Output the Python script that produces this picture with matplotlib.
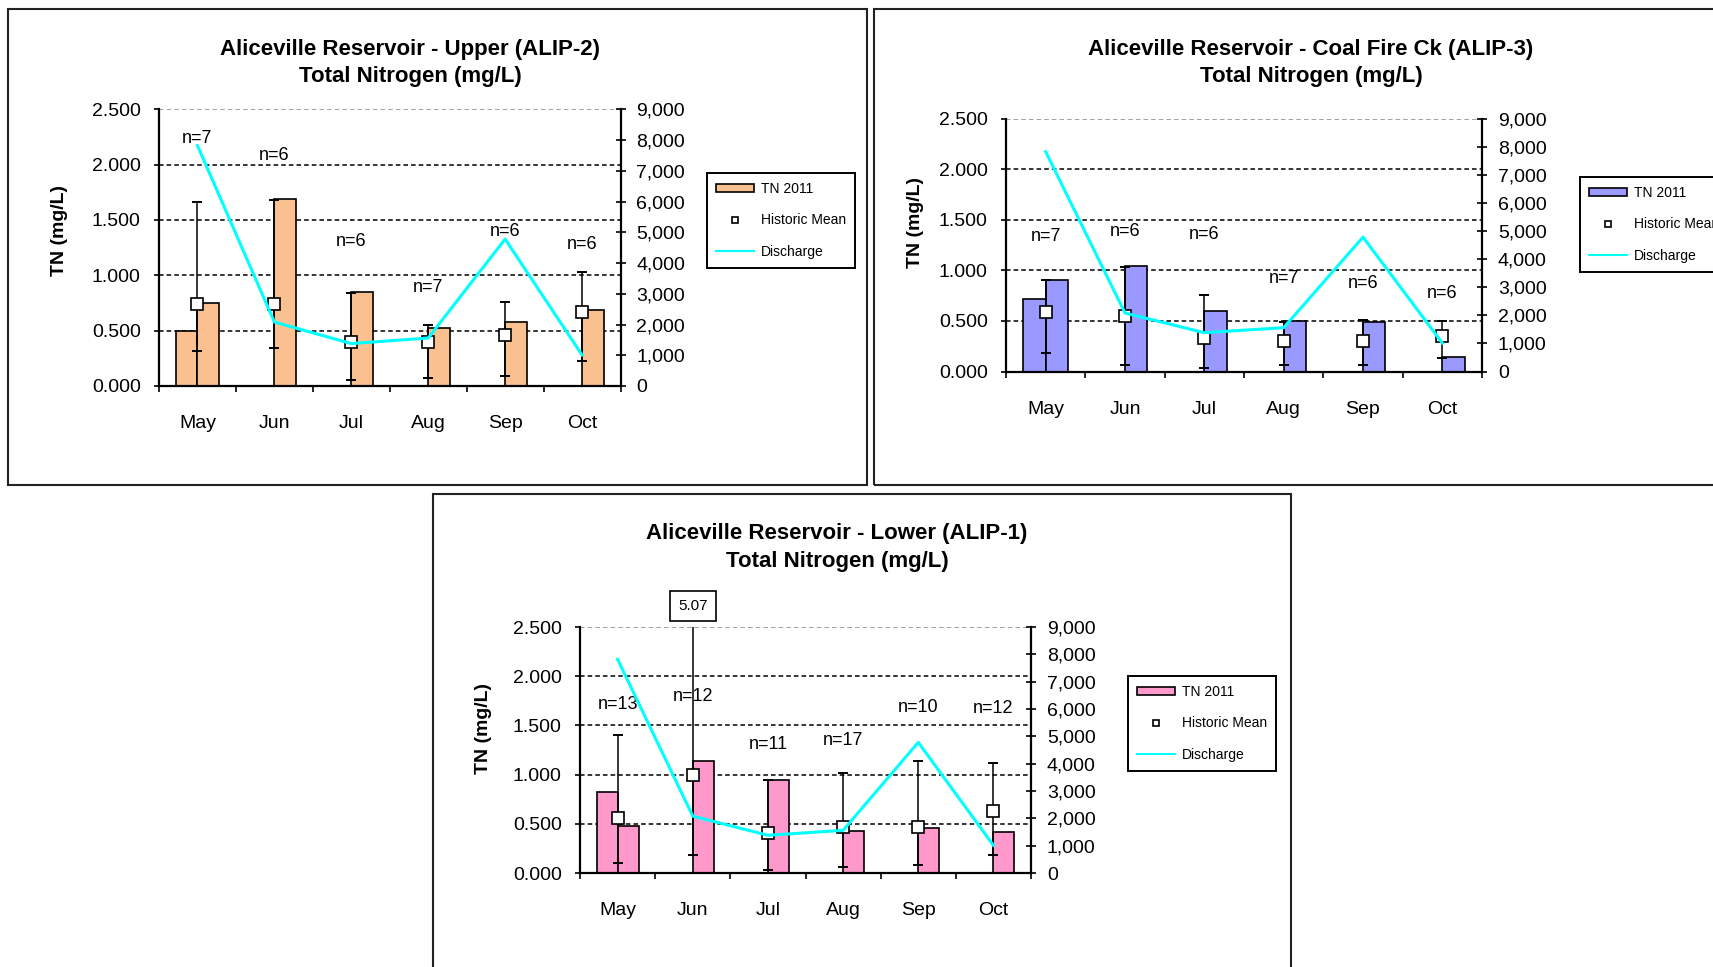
import numpy as np
import matplotlib
matplotlib.use("Agg")
import matplotlib.pyplot as plt
from matplotlib.patches import Patch, Rectangle
from matplotlib.lines import Line2D
from matplotlib.ticker import FuncFormatter

plt.rcParams["font.family"] = ["Liberation Sans", "DejaVu Sans"]

W, H = 1713, 967

# shared data
months = ["May", "Jun", "Jul", "Aug", "Sep", "Oct"]
discharge = [7820, 2080, 1380, 1560, 4780, 1010]

# Upper (ALIP-2)
upper_tn_first = [0.50, np.nan, np.nan, np.nan, np.nan, np.nan]
upper_tn_second = [0.75, 1.69, 0.85, 0.52, 0.58, 0.69]
upper_hist_mean = [0.74, 0.74, 0.40, 0.40, 0.46, 0.67]
upper_hist_min = [0.32, 0.34, 0.05, 0.07, 0.09, 0.23]
upper_hist_max = [1.66, 1.68, 0.84, 0.55, 0.76, 1.03]
upper_n = [7, 6, 6, 7, 6, 6]
upper_n_y = [2.24, 2.08, 1.31, 0.89, 1.40, 1.28]

# Coal Fire Ck (ALIP-3)
coal_tn_first = [0.72, np.nan, np.nan, np.nan, np.nan, np.nan]
coal_tn_second = [0.90, 1.04, 0.60, 0.50, 0.49, 0.14]
coal_hist_mean = [0.59, 0.55, 0.33, 0.30, 0.30, 0.35]
coal_hist_min = [0.18, 0.06, 0.03, 0.06, 0.06, 0.13]
coal_hist_max = [0.90, 1.03, 0.76, 0.49, 0.51, 0.50]
coal_n = [7, 6, 6, 7, 6, 6]
coal_n_y = [1.33, 1.38, 1.35, 0.92, 0.87, 0.77]

# Lower (ALIP-1)
lower_tn_first = [0.82, np.nan, np.nan, np.nan, np.nan, np.nan]
lower_tn_second = [0.48, 1.14, 0.95, 0.43, 0.46, 0.42]
lower_hist_mean = [0.56, 1.00, 0.41, 0.47, 0.47, 0.63]
lower_hist_min = [0.10, 0.18, 0.03, 0.06, 0.08, 0.18]
lower_hist_max = [1.40, 5.07, 0.95, 1.02, 1.14, 1.12]
lower_n = [13, 12, 11, 17, 10, 12]
lower_n_y = [1.71, 1.79, 1.31, 1.35, 1.68, 1.67]

CYAN = "#00FFFF"


def fx(x):
    return x / W


def fy(y):
    return 1 - y / H


def draw_panel(fig, frame, box, title, title_x, title_base, ylabel_xy, legend_xy,
               color, tn_first, tn_second, hist_mean, hist_min, hist_max, n_vals, n_y):
    # panel border
    fl, ft, fr, fb = frame
    fig.add_artist(Rectangle((fx(fl), fy(fb)), (fr - fl) / W, (fb - ft) / H,
                             transform=fig.transFigure, fill=False,
                             edgecolor="#222222", linewidth=1.5))

    left, top, right, bottom = box
    ax = fig.add_axes([fx(left), fy(bottom), (right - left) / W, (bottom - top) / H])
    x = np.arange(len(months))
    w = 0.28

    ax.bar(x - w / 2, tn_first, w, color=color, edgecolor="black", linewidth=1.2, zorder=2)
    ax.bar(x + w / 2, tn_second, w, color=color, edgecolor="black", linewidth=1.2, zorder=2)

    mean = np.array(hist_mean)
    yerr = [mean - np.array(hist_min), np.array(hist_max) - mean]
    ax.errorbar(x, mean, yerr=yerr, fmt="none", ecolor="black", elinewidth=1.1,
                capsize=3.3, capthick=1.4, zorder=3)
    ax.plot(x, mean, "s", mfc="white", mec="black", ms=8, mew=1.2, zorder=4)

    for xi, n, yy in zip(x, n_vals, n_y):
        ax.text(xi, yy, f"n={n}", ha="center", va="center", fontsize=13, zorder=5)

    ax.set_xlim(-0.5, 5.5)
    ax.set_ylim(0, 2.5)
    ax.set_yticks(np.arange(0, 2.51, 0.5))
    ax.yaxis.set_major_formatter(FuncFormatter(lambda v, p: f"{v:.3f}"))

    # values off the top of the chart get a boxed label
    for xi, v in zip(x, hist_max):
        if v > 2.5:
            ax.annotate(f"{v:.2f}", xy=(xi, 2.5), xytext=(0, 21), textcoords="offset pixels",
                        ha="center", va="center", fontsize=11, annotation_clip=False,
                        bbox=dict(boxstyle="square,pad=0.55", fc="white", ec="black", lw=1.2))

    ax.set_axisbelow(True)
    ax.grid(axis="y", color="black", linestyle=(0, (3, 2)), linewidth=1.1)
    ax.yaxis.get_gridlines()[-1].set_color("#888888")

    for s in ["top", "right"]:
        ax.spines[s].set_visible(False)
    for s in ["left", "bottom"]:
        ax.spines[s].set_linewidth(1.6)

    ax.set_xticks(x)
    ax.set_xticklabels(months)
    ax.set_xticks(np.arange(-0.5, 6, 1), minor=True)
    ax.tick_params(axis="x", which="major", length=0, pad=21, labelsize=14)
    ax.tick_params(axis="x", which="minor", length=4.5, width=1.2, direction="out")
    ax.tick_params(axis="y", direction="out", length=3.6, width=1.2, pad=9.5, labelsize=14)

    ax2 = ax.twinx()
    ax2.plot(x, discharge, color=CYAN, linewidth=2.2, zorder=6)
    ax2.set_ylim(0, 9000)
    ax2.set_yticks(np.arange(0, 9001, 1000))
    ax2.yaxis.set_major_formatter(FuncFormatter(lambda v, p: f"{v:,.0f}"))
    ax2.tick_params(axis="y", direction="inout", length=7, width=1.2, pad=8, labelsize=14)
    for s in ["top", "left", "bottom"]:
        ax2.spines[s].set_visible(False)
    ax2.spines["right"].set_linewidth(1.6)

    # titles and labels
    line1, line2 = title
    fig.text(fx(title_x), fy(title_base[0]), line1, ha="center", va="baseline",
             fontsize=16, fontweight="bold")
    fig.text(fx(title_x), fy(title_base[1]), line2, ha="center", va="baseline",
             fontsize=16, fontweight="bold")
    fig.text(fx(ylabel_xy[0]), fy(ylabel_xy[1]), "TN (mg/L)", rotation=90,
             ha="center", va="center", fontsize=14, fontweight="bold")

    handles = [
        Patch(facecolor=color, edgecolor="black", linewidth=1.2),
        Line2D([], [], marker="s", linestyle="none", mfc="white", mec="black", ms=5, mew=1.2),
        Line2D([], [], color=CYAN, linewidth=1.5),
    ]
    leg = fig.legend(handles, ["TN 2011", "Historic Mean", "Discharge"],
                     loc="upper left", bbox_to_anchor=(fx(legend_xy[0]), fy(legend_xy[1])),
                     bbox_transform=fig.transFigure, borderaxespad=0, fontsize=10,
                     frameon=True, fancybox=False, framealpha=1, edgecolor="black",
                     handlelength=2.75, handleheight=0.5, handletextpad=0.5,
                     labelspacing=1.25, borderpad=0.65)
    leg.get_frame().set_linewidth(1.4)
    return ax, ax2


fig = plt.figure(figsize=(W / 100, H / 100), dpi=100)

draw_panel(fig, (7.5, 9, 867, 485), (159, 109.3, 620.5, 386),
           ("Aliceville Reservoir - Upper (ALIP-2)", "Total Nitrogen (mg/L)"),
           410, (55, 82), (60, 231), (707, 173), "#FAC090",
           upper_tn_first, upper_tn_second, upper_hist_mean, upper_hist_min,
           upper_hist_max, upper_n, upper_n_y)

draw_panel(fig, (874, 9, 1725, 485), (1006, 118.5, 1482, 371.5),
           ("Aliceville Reservoir - Coal Fire Ck (ALIP-3)", "Total Nitrogen (mg/L)"),
           1311, (55, 82), (915, 222), (1580, 177), "#9999FF",
           coal_tn_first, coal_tn_second, coal_hist_mean, coal_hist_min,
           coal_hist_max, coal_n, coal_n_y)

draw_panel(fig, (433, 494, 1291, 980), (580, 627, 1031, 873),
           ("Aliceville Reservoir - Lower (ALIP-1)", "Total Nitrogen (mg/L)"),
           837, (539, 567), (484, 729), (1128, 676), "#FF99CC",
           lower_tn_first, lower_tn_second, lower_hist_mean, lower_hist_min,
           lower_hist_max, lower_n, lower_n_y)

fig.savefig("out.png", dpi=100)
